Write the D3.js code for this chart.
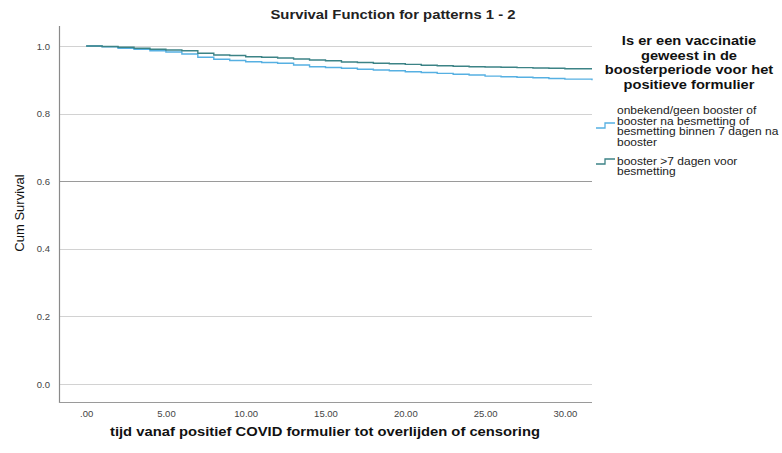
<!DOCTYPE html>
<html>
<head>
<meta charset="utf-8">
<script src="https://cdn.jsdelivr.net/npm/d3@7"></script>
<style>
  html, body { margin: 0; padding: 0; background: #fff; }
  svg { display: block; font-family: "Liberation Sans", Arial, sans-serif; }
</style>
</head>
<body>
<svg id="chart" width="782" height="453"></svg>
<script>
// ---- data ----
const days = [0,1,2,3,4,5,6,7,8,9,10,11,12,13,14,15,16,17,18,19,20,21,22,23,24,25,26,27,28,29,30,31.7];
const survNoBooster = [1.000,0.9979,0.9932,0.9902,0.9861,0.9822,0.9763,0.9666,0.9607,0.9570,0.9536,0.9510,0.9488,0.9438,0.9388,0.9364,0.9340,0.9314,0.9290,0.9266,0.9240,0.9216,0.9190,0.9166,0.9140,0.9110,0.9090,0.9077,0.9060,0.9038,0.9020,0.8990];
const survBooster = [1.000,0.9985,0.9962,0.9932,0.9902,0.9882,0.9861,0.9784,0.9734,0.9720,0.9683,0.9666,0.9645,0.9615,0.9586,0.9565,0.9527,0.9510,0.9488,0.9473,0.9458,0.9430,0.9417,0.9400,0.9388,0.9380,0.9370,0.9360,0.9350,0.9340,0.9328,0.9328];
const seriesNames = [
  ["onbekend/geen booster of", "booster na besmetting of", "besmetting binnen 7 dagen na", "booster"],
  ["booster >7 dagen voor", "besmetting"]
];
const seriesColors = ["#56b0e2", "#3c8386"];
const xTicks = [0,5,10,15,20,25,30];
const yTicks = [0,0.2,0.4,0.6,0.8,1.0];
const titleText = "Survival Function for patterns 1 - 2";
const xTitle = "tijd vanaf positief COVID formulier tot overlijden of censoring";
const yTitle = "Cum Survival";
const legendTitle = ["Is er een vaccinatie", "geweest in de", "boosterperiode voor het", "positieve formulier"];

// ---- layout ----
const svg = d3.select("#chart");
const mLeft = 59, mRight = 592, mTop = 26, mBottom = 402;
const x = d3.scaleLinear().domain([-1.7, 31.7]).range([mLeft, mRight]);
const y = d3.scaleLinear().domain([-0.0533, 1.0592]).range([mBottom, mTop]);

// widen text horizontally (reference rendering is slightly stretched)
function stretch(sel, f) {
  sel.each(function () {
    const w = this.getComputedTextLength();
    d3.select(this).attr("textLength", w * f).attr("lengthAdjust", "spacingAndGlyphs");
  });
}

svg.append("rect").attr("width", 782).attr("height", 453).attr("fill", "#fff");

// gridlines
svg.append("g").selectAll("line").data(yTicks).join("line")
  .attr("x1", mLeft).attr("x2", mRight)
  .attr("y1", d => Math.round(y(d)) + 0.5).attr("y2", d => Math.round(y(d)) + 0.5)
  .attr("stroke", d => d === 0.6 ? "#9a9a9a" : "#d2d2d2")
  .attr("stroke-width", 1);

// y axis
const yAxis = svg.append("g").attr("transform", `translate(${mLeft},0)`)
  .call(d3.axisLeft(y).tickValues(yTicks).tickSize(0).tickPadding(9).tickFormat(d3.format(".1f")));
yAxis.select(".domain").remove();
yAxis.selectAll("text").attr("font-size", 9.5).attr("fill", "#444").attr("font-family", "Liberation Sans, Arial, sans-serif");

// x axis
const xAxis = svg.append("g").attr("transform", `translate(0,${mBottom})`)
  .call(d3.axisBottom(x).tickValues(xTicks).tickSize(0).tickPadding(8).tickFormat(d => d === 0 ? ".00" : d3.format(".2f")(d)));
xAxis.select(".domain").remove();
xAxis.selectAll("text").attr("font-size", 9.5).attr("fill", "#444").attr("font-family", "Liberation Sans, Arial, sans-serif");

// axis lines
svg.append("line").attr("x1", mLeft + 0.5).attr("x2", mLeft + 0.5).attr("y1", mTop).attr("y2", mBottom + 1)
  .attr("stroke", "#8a8a8a").attr("stroke-width", 1.2);
svg.append("line").attr("x1", mLeft).attr("x2", mRight).attr("y1", mBottom + 0.5).attr("y2", mBottom + 0.5)
  .attr("stroke", "#9a9a9a").attr("stroke-width", 1.2);

// curves
const line = d3.line().x(d => x(d[0])).y(d => y(d[1])).curve(d3.curveStepAfter);
[survNoBooster, survBooster].forEach((vals, i) => {
  svg.append("path")
    .datum(days.map((d, j) => [d, vals[j]]))
    .attr("d", line)
    .attr("fill", "none")
    .attr("stroke", seriesColors[i])
    .attr("stroke-width", 1.4);
});

// title
svg.append("text").attr("x", 393).attr("y", 19).attr("text-anchor", "middle")
  .attr("font-size", 13.5).attr("font-weight", "bold").attr("fill", "#222").text(titleText)
  .call(stretch, 1.1);

// axis titles
svg.append("text").attr("x", 325).attr("y", 436).attr("text-anchor", "middle")
  .attr("font-size", 13.5).attr("font-weight", "bold").attr("fill", "#111").text(xTitle)
  .call(stretch, 1.094);
svg.append("text").attr("transform", "translate(24,213) rotate(-90)").attr("text-anchor", "middle")
  .attr("font-size", 13).attr("fill", "#111").text(yTitle);

// legend title
svg.append("g").selectAll("text").data(legendTitle).join("text")
  .attr("x", 689).attr("y", (d, i) => 45 + i * 14.7).attr("text-anchor", "middle")
  .attr("font-size", 13.5).attr("font-weight", "bold").attr("fill", "#111").text(d => d)
  .call(stretch, 1.084);

// legend items
const itemTop = [114, 164.5];
const symY = [[128, 123], [164, 159]];
seriesNames.forEach((lines, i) => {
  const g = svg.append("g");
  g.selectAll("text").data(lines).join("text")
    .attr("x", 617).attr("y", (d, j) => itemTop[i] + j * 10.5)
    .attr("font-size", 11).attr("fill", "#222").text(d => d)
    .call(stretch, 1.09);
  const [lo, hi] = symY[i];
  g.append("path")
    .attr("d", `M596,${lo}H605V${hi}H615`)
    .attr("fill", "none").attr("stroke", seriesColors[i]).attr("stroke-width", 1.3);
});
</script>
</body>
</html>
